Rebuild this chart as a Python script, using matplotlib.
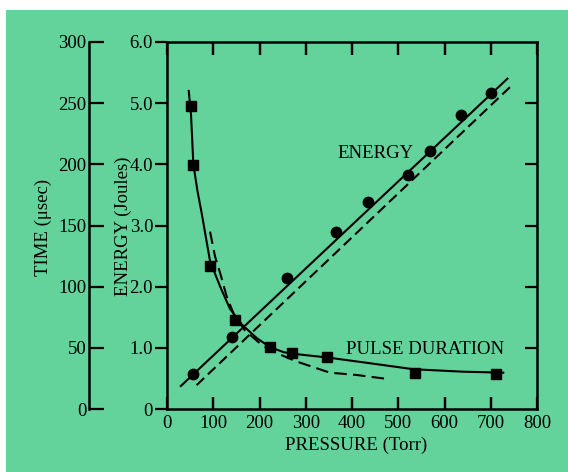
import matplotlib
matplotlib.use("Agg")
import matplotlib.pyplot as plt
from matplotlib.patches import Rectangle

# ---- data ----
energy_p = [57, 140, 260, 365, 435, 521, 568, 635, 700]
energy_j = [0.58, 1.17, 2.14, 2.90, 3.39, 3.82, 4.22, 4.80, 5.16]

energy_fit_p = [30, 736]
energy_fit_j = [0.376, 5.40]
energy_calc_p = [64, 744]
energy_calc_j = [0.39, 5.28]

pulse_p = [52, 57, 94, 147, 222, 271, 347, 536, 712]
pulse_t = [248, 199.5, 117, 73, 51, 45.5, 42.5, 29.7, 28.6]

pulse_fit_p = [47, 52, 57, 66, 75, 93, 115, 136, 162, 194, 223, 252, 266, 300, 345, 439, 533, 640, 727]
pulse_fit_t = [260, 240, 200, 178, 160, 121, 100, 82, 69, 58, 50.5, 46.5, 45.5, 44, 42.2, 37.4, 32.5, 30.5, 29.7]

pulse_calc_p = [93, 104, 115, 129, 145, 169, 200, 223, 279, 352, 410, 482]
pulse_calc_t = [145, 124.5, 111, 92, 77, 64, 54, 48, 39, 29.7, 27.8, 24.3]

x_ticks = [0, 100, 200, 300, 400, 500, 600, 700, 800]
e_ticks = [0, 1, 2, 3, 4, 5, 6]
e_labels = ["0", "1.0", "2.0", "3.0", "4.0", "5.0", "6.0"]
t_ticks = [0, 50, 100, 150, 200, 250, 300]

GREEN = "#63d29b"
FONT = "Liberation Serif"
FS = 13.5

plt.rcParams["font.family"] = [FONT, "DejaVu Serif"]

W, H = 568, 472
fig = plt.figure(figsize=(W / 100, H / 100), dpi=100)
fig.patch.set_facecolor("white")
fig.add_artist(Rectangle((6 / W, 0), 1, 1 - 10 / H, transform=fig.transFigure,
                         facecolor=GREEN, edgecolor="none", zorder=-10))

L, R, T, B = 167, 537, 42, 409
rect = [L / W, 1 - B / H, (R - L) / W, (B - T) / H]

# ---- data axes (energy) ----
ax = fig.add_axes(rect)
ax.patch.set_visible(False)
ax.set_xlim(0, 800)
ax.set_ylim(0, 6)
ax.set_axis_off()
ax.plot(energy_fit_p, energy_fit_j, color="black", lw=1.5, zorder=3)
ax.plot(energy_calc_p, energy_calc_j, color="black", lw=1.5, ls=(0, (5, 2.5)), zorder=3)
ax.plot(energy_p, energy_j, "o", color="black", ms=7.5, zorder=4)

# ---- time axis (own spine far left) ----
ax2 = fig.add_axes(rect)
ax2.patch.set_visible(False)
ax2.set_xlim(0, 800)
ax2.set_ylim(0, 300)
for k in ["top", "right", "bottom"]:
    ax2.spines[k].set_visible(False)
ax2.spines["left"].set_position(("outward", (L - 89) * 0.72))
ax2.spines["left"].set_linewidth(1.8)
ax2.set_xticks([])
ax2.set_yticks(t_ticks)
ax2.set_yticklabels([str(v) for v in t_ticks])
ax2.tick_params(axis="y", direction="in", length=11, width=1.6, labelsize=FS, pad=2)
ax2.plot(pulse_fit_p, pulse_fit_t, color="black", lw=1.5, zorder=3)
ax2.plot(pulse_calc_p, pulse_calc_t, color="black", lw=1.5, ls=(0, (6, 3)), zorder=3)
ax2.plot(pulse_p, pulse_t, "s", color="black", ms=6.5, zorder=4)

# ---- frame with ticks (energy / pressure scales) ----
fr = fig.add_axes(rect)
fr.set_zorder(5)
fr.patch.set_visible(False)
fr.set_xlim(0, 800)
fr.set_ylim(0, 6)
for s in fr.spines.values():
    s.set_linewidth(1.8)
fr.set_xticks(x_ticks)
fr.set_xticklabels([str(v) for v in x_ticks])
fr.set_yticks(e_ticks)
fr.set_yticklabels(e_labels)
fr.tick_params(axis="x", direction="in", length=9, width=1.6, bottom=True, top=True,
               labelsize=FS, pad=4)
fr.tick_params(axis="y", direction="out", length=9, width=1.6, left=True, right=False,
               labelsize=FS, pad=1)

# inward tick marks drawn explicitly on the frame (bottom, top, right)
tick_len_x = 12.5 / (B - T)   # tick length as axes fraction (vertical)
tick_len_y = 12.5 / (R - L)   # tick length as axes fraction (horizontal)
xt = fr.get_xaxis_transform()
yt = fr.get_yaxis_transform()
fr.vlines(x_ticks[1:-1], 0, tick_len_x, transform=xt, colors="black", lw=1.6,
          clip_on=False, zorder=6)
fr.vlines(x_ticks[1:-1], 1 - tick_len_x, 1, transform=xt, colors="black", lw=1.6,
          clip_on=False, zorder=6)
fr.hlines(e_ticks[1:-1], 1 - tick_len_y, 1, transform=yt, colors="black", lw=1.6,
          clip_on=False, zorder=6)

fr.text(451, 4.17, "ENERGY", fontsize=FS, ha="center", va="center")
fr.text(559, 0.965, "PULSE DURATION", fontsize=FS, ha="center", va="center")

fig.text(356 / W, 1 - 445 / H, "PRESSURE (Torr)", fontsize=FS, ha="center", va="center")
fig.text(123 / W, 1 - 226 / H, "ENERGY (Joules)", fontsize=FS, ha="center", va="center",
         rotation=90)
fig.text(43 / W, 1 - 227 / H, "TIME (\u03bcsec)", fontsize=FS, ha="center", va="center",
         rotation=90)

fig.savefig("out.png", dpi=100, facecolor=fig.get_facecolor())
